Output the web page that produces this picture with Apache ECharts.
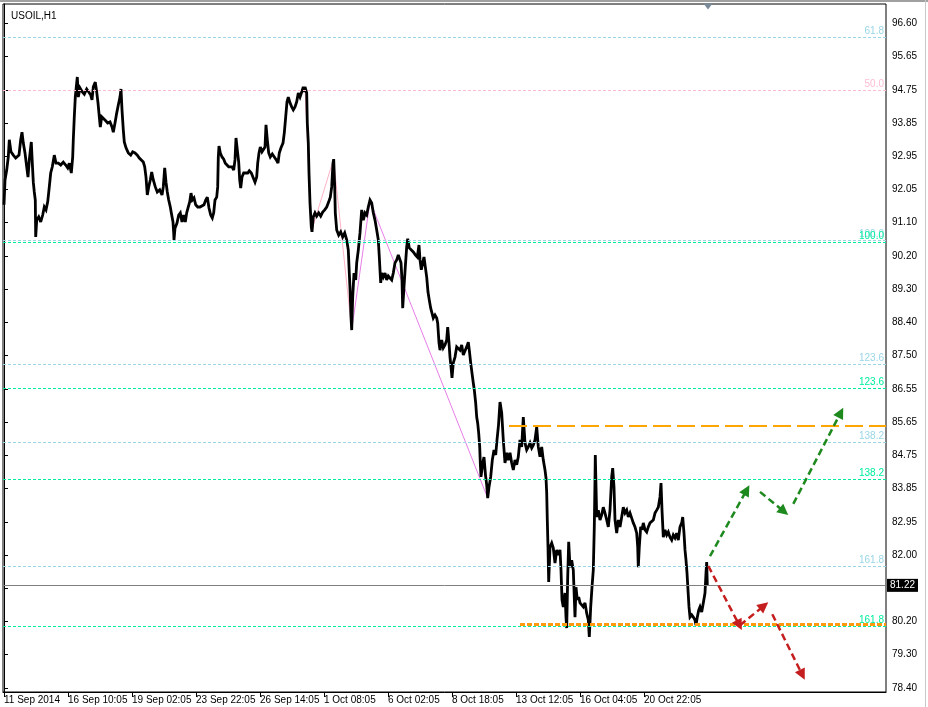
<!DOCTYPE html>
<html><head><meta charset="utf-8">
<script src="https://cdn.jsdelivr.net/npm/echarts@6/dist/echarts.min.js"></script>
<style>html,body{margin:0;padding:0;background:#fff}#c{width:928px;height:707px}</style>
</head><body><div id="c"></div>
<script>
const symbolName = 'USOIL,H1';
const timeLabels = ['11 Sep 2014','16 Sep 10:05','19 Sep 02:05','23 Sep 22:05','26 Sep 14:05','1 Oct 08:05','6 Oct 02:05','8 Oct 18:05','13 Oct 12:05','16 Oct 04:05','20 Oct 22:05'];
const timeTickBars = [0,64,128,192,256,320,384,448,512,576,640];
const priceTickLabels = ['78.40','79.30','80.20','81.10','82.00','82.95','83.85','84.75','85.65','86.55','87.50','88.40','89.30','90.20','91.10','92.05','92.95','93.85','94.75','95.65','96.60'];
const priceTickStart = 78.40, priceTickStep = 0.91;
const currentPrice = 81.22;

// [bar index (hours), price]
const pricePath = [[0,91.63],[1,92.31],[2.7,92.58],[4.3,92.94],[5.3,93.41],[7,93.08],[9.3,92.99],[11.7,92.91],[13.3,92.86],[15,92.99],[16.7,93.41],[18,93.62],[19.3,93.32],[21,93.05],[22.7,92.67],[24,92.39],[25.3,92.86],[27.3,93.35],[28.3,92.77],[29.3,92.25],[30.3,91.98],[31.3,91.76],[31.7,90.75],[32.7,91.21],[34.7,91.30],[36.7,91.16],[38.7,91.35],[40.3,91.57],[42,91.49],[43.7,91.71],[45.3,92.12],[46.7,92.50],[48.3,92.67],[50.3,92.99],[52,92.77],[54.3,92.77],[56.7,92.72],[59.3,92.80],[61.7,92.72],[63.7,92.64],[65.3,92.77],[67.3,92.50],[68.7,92.94],[69.3,93.41],[70.3,94.04],[71.3,94.58],[72.3,94.86],[73.3,95.13],[74.3,94.58],[76,94.83],[78.3,94.72],[80.3,94.66],[82.7,94.80],[84.7,94.72],[86.7,94.64],[88,94.50],[89.3,94.86],[91.3,94.99],[92.7,94.72],[94,94.42],[95.3,94.04],[96.3,93.76],[97.7,94.04],[99.7,94.04],[101.7,93.93],[103.7,93.87],[106,93.90],[108,93.76],[109.3,93.62],[111,93.87],[112.7,94.14],[114.3,94.36],[116,94.58],[117,94.80],[118,94.23],[119.3,93.68],[120.3,93.35],[122,93.19],[124.3,93.05],[126.7,92.99],[128.7,93.08],[131,93.05],[133.3,92.99],[135.3,92.91],[137.3,92.94],[139.3,92.80],[140.7,92.67],[142,92.39],[143.3,91.90],[144.7,92.12],[146.3,92.31],[147.7,92.53],[149.3,92.31],[151.3,92.12],[153.3,91.98],[155.7,92.04],[158,91.90],[159.3,92.12],[160.7,92.64],[162,92.25],[163.3,91.98],[164.7,91.76],[166.3,91.57],[167.7,91.35],[169,91.16],[169.7,90.86],[170,90.67],[171,90.99],[173,91.13],[174.7,91.35],[176.3,91.41],[178,91.16],[179.7,91.35],[181.3,91.16],[182.7,91.41],[184.3,91.57],[185.7,91.71],[187,91.95],[188.3,91.76],[190,91.82],[191.7,91.63],[193.7,91.57],[196,91.57],[198,91.54],[200,91.63],[201.7,91.76],[203.3,91.84],[205,91.54],[206.7,91.35],[208.3,91.27],[209.7,91.41],[211,91.76],[212.7,91.84],[213.7,92.12],[214.3,92.94],[215,93.24],[216.3,93.05],[218,92.94],[219.7,92.88],[221.3,92.77],[223,92.72],[224.7,92.67],[226.3,92.64],[228,92.67],[229.7,92.58],[231,92.86],[232,93.46],[233.3,93.13],[234.7,92.80],[235.7,92.31],[236.7,92.09],[238,92.39],[239.7,92.50],[241.7,92.45],[243.7,92.50],[245.3,92.56],[247.3,92.50],[249.3,92.45],[251,92.25],[252.7,92.39],[253.7,92.77],[255,93.05],[256.3,93.21],[258,93.08],[259.7,93.05],[261,93.21],[262,93.82],[263.3,93.41],[264.7,93.05],[266.3,92.94],[268.3,93.02],[270.3,92.94],[272.3,92.86],[274,92.77],[275.3,93.05],[277,93.19],[279,93.32],[280.3,93.60],[281.7,94.04],[283,94.45],[284.3,94.58],[286,94.42],[287.7,94.31],[289.3,94.23],[291,94.31],[292.7,94.45],[294.3,94.69],[296,94.58],[297.7,94.72],[299.3,94.86],[300.3,94.72],[301,94.86],[302.7,94.69],[303.3,93.87],[304.3,93.32],[305,92.50],[306,91.68],[307.3,91.02],[308,90.89],[309.3,91.30],[311,91.41],[312.7,91.32],[314.7,91.41],[316.7,91.32],[318.7,91.43],[320.7,91.49],[322.7,91.57],[324.7,91.71],[326.3,91.84],[327.7,92.12],[329,92.77],[329.7,92.88],[330.7,92.12],[331.3,91.41],[332.7,90.94],[334.7,90.80],[336.7,90.89],[338.7,90.75],[340.7,90.86],[342.7,90.67],[344.3,90.39],[345.3,89.76],[346,89.35],[347,88.56],[347.7,88.20],[348.7,89.11],[350,89.76],[351.7,89.57],[352.7,90.04],[354.3,90.39],[356,90.86],[357.7,91.49],[359.3,91.21],[361,91.41],[362.7,91.35],[364.3,91.57],[366,91.76],[367.7,91.68],[369.3,91.41],[371,91.21],[372.7,90.94],[374.3,90.67],[375.3,90.20],[376.7,89.49],[377.7,89.76],[379.3,89.65],[381,89.76],[382.7,89.57],[384.3,89.68],[386,89.71],[387.7,89.57],[389.3,89.76],[391,90.04],[392.7,90.12],[394.3,90.26],[396,90.31],[397,90.04],[398,89.57],[398.7,88.80],[400,89.38],[401.3,89.93],[402.7,90.48],[403.7,90.70],[405.3,90.45],[407.3,90.48],[409.3,90.34],[411.3,90.26],[413.3,90.20],[415,90.53],[416,90.12],[417.3,89.85],[418.7,90.04],[420,90.20],[421.3,89.93],[422.7,89.65],[424,89.24],[425.3,89.02],[426.7,88.80],[428,88.75],[429.3,88.53],[431,88.61],[432.7,88.53],[433.7,88.39],[435,87.85],[436,87.65],[437.7,87.93],[439.3,87.71],[441,87.79],[442.7,87.93],[443.7,88.28],[445,87.85],[446,87.46],[447,87.19],[448,86.89],[449.3,87.30],[451,87.46],[452.7,87.74],[454.3,87.79],[456,87.65],[457.7,87.79],[459.3,87.52],[461,87.57],[462.7,87.74],[464.3,87.87],[465.3,87.65],[466.7,87.30],[468,87.02],[469.3,86.75],[470.3,86.56],[471.7,86.20],[472.7,85.82],[473.7,85.65],[474.7,85.38],[475.7,85.00],[476.3,84.56],[477,84.18],[478.7,84.56],[480,84.72],[481.5,84.23],[482.7,83.96],[483.7,83.60],[485,83.90],[486.7,84.18],[488.3,84.64],[490,84.92],[491.7,84.78],[493,85.19],[494.5,85.60],[496,86.23],[497.7,85.93],[499.3,85.19],[501,84.56],[502.7,84.84],[504.3,84.64],[506,84.84],[507.7,84.56],[509.3,84.37],[511,84.64],[512.7,84.51],[514.3,84.73],[516,85.19],[517.7,85.00],[519.3,85.82],[521,85.11],[522.7,84.92],[524.3,85.00],[526,85.11],[527.7,84.97],[529.3,85.05],[531,85.19],[532.7,85.55],[534.3,85.00],[536,84.73],[537.7,85.00],[539.3,84.64],[541,84.37],[542,84.15],[542.7,83.74],[543.3,83.00],[544,82.26],[544.7,81.30],[546,82.26],[547.7,82.37],[549.3,82.23],[551,81.82],[552.7,82.18],[554.3,82.04],[556,82.18],[557,81.63],[558,80.81],[559.3,80.62],[561,81.00],[562,80.34],[562.7,80.04],[563.7,81.44],[564.7,82.40],[566,81.71],[567.7,81.90],[569.3,81.63],[571,80.34],[572,81.16],[573.3,80.81],[574.7,80.89],[576,80.73],[577.7,80.78],[579.3,80.62],[581,80.73],[582.7,80.45],[584.3,80.26],[585.3,79.80],[586.7,80.62],[588,81.16],[589.3,81.63],[590.3,82.81],[591,84.10],[591.3,84.78],[592.7,83.08],[594.3,83.27],[596,83.00],[597.7,83.14],[599.3,83.35],[601,83.19],[602.7,83.00],[604.3,82.81],[606,83.27],[607.7,84.18],[608.7,84.42],[610,83.90],[611,83.00],[612.7,82.64],[614.3,83.00],[616,82.81],[617.7,83.08],[619.3,83.35],[621,83.19],[622.7,83.27],[624.3,83.08],[626,83.19],[627.7,83.05],[629.3,82.92],[631,82.81],[632.7,82.64],[633.7,82.26],[634.3,81.71],[635.3,82.26],[636.7,82.81],[638,82.73],[639.3,82.92],[641,82.73],[642.7,82.67],[644.3,82.81],[646,82.92],[647.7,82.95],[649.3,83.00],[651,83.19],[652.7,83.27],[654.3,83.35],[656,83.63],[657,84.01],[658,83.27],[659.3,82.53],[661,82.73],[662.7,82.59],[664.3,82.67],[666,82.53],[667.7,82.45],[669.3,82.59],[671,82.51],[672.7,82.64],[674.3,82.45],[676,82.81],[677.7,82.92],[678.7,83.08],[680,82.64],[681,82.18],[682,81.90],[683,81.55],[684,81.08],[685,80.62],[686,80.34],[687.7,80.40],[689.3,80.34],[691,80.26],[692,80.12],[693.3,80.34],[694.7,80.53],[696,80.62],[697.7,80.48],[699.3,80.73],[701,81.00],[702,81.55],[702.7,81.85],[703.3,81.22]];

const zigzagPink = [[301,94.83],[307.5,90.91],[329.5,92.88],[347.7,88.20]];
const zigzagViolet = [[347.7,88.20],[366,91.73],[483.7,83.60]];

const fibBlueLabels = ['61.8','100.0','123.6','138.2','161.8'];
const fibBlueValues = [96.22,90.65,87.26,85.13,81.73];
const fibGreenLabels = ['100.0','123.6','138.2','161.8'];
const fibGreenValues = [90.60,86.61,84.11,80.10];
const fibPinkLabels = ['50.0'];
const fibPinkValues = [94.77];

const resistanceLine = [[505,85.57],[882,85.57]];
const supportLine = [[516,80.15],[882,80.15]];

const greenArrows = [[[706,82.01],[742.7,83.82]],[[756,83.77],[780,83.23]],[[789.3,83.44],[836.7,85.94]]];
const redArrows = [[[704.3,81.74],[735.3,80.12]],[[736,80.12],[760,80.65]],[[768.3,80.42],[798.3,78.76]]];

const FONT = 'Liberation Sans';
const C_BLUE = '#9ad6e6', C_GREEN = '#00eea0', C_PINK = '#ffbcd0';

function fibLines(labels, values, color) {
  return labels.map((t, i) => ({
    yAxis: values[i],
    lineStyle: { color: color, type: [3, 2], width: 1 },
    label: { show: true, formatter: t, position: 'insideEndTop', color: color, fontSize: 10, fontFamily: FONT, distance: [2, 1] }
  }));
}
function arrowLines(list, color) {
  return list.map(a => [{ coord: a[0] }, { coord: a[1] }]).map(p => {
    p[0].lineStyle = { color: color, width: 2.5, type: [7, 4] };
    return p;
  });
}

const chart = echarts.init(document.getElementById('c'));
chart.setOption({
  animation: false,
  backgroundColor: '#fff',
  title: { text: symbolName, left: 6, top: 6, textStyle: { fontSize: 10, fontWeight: 'normal', color: '#000', fontFamily: FONT } },
  grid: { left: 3, right: 42, top: 4, bottom: 15, show: true, borderColor: '#000', borderWidth: 1 },
  xAxis: {
    type: 'value', min: -1, max: 882,
    splitLine: { show: false },
    axisLine: { show: true, lineStyle: { color: '#000' } },
    axisTick: { show: true, length: 5, customValues: timeTickBars, lineStyle: { color: '#000' } },
    axisLabel: { customValues: timeTickBars, align: 'left', margin: 3, fontSize: 10, color: '#000', fontFamily: FONT,
      formatter: v => { const i = timeTickBars.indexOf(Math.round(v)); return i >= 0 ? timeLabels[i] : ''; } }
  },
  yAxis: {
    type: 'value', position: 'right', min: 78.29, max: 97.128, scale: true,
    splitLine: { show: false },
    axisLine: { show: true, lineStyle: { color: '#000' } },
    axisTick: { show: true, length: 4, customValues: priceTickLabels.map((s, i) => priceTickStart + i * priceTickStep), lineStyle: { color: '#000' } },
    axisLabel: { customValues: priceTickLabels.map((s, i) => priceTickStart + i * priceTickStep), margin: 6, fontSize: 10, color: '#000', fontFamily: FONT,
      formatter: v => priceTickLabels[Math.round((v - priceTickStart) / priceTickStep)] || '' }
  },
  series: [
    { type: 'line', data: [], z: 1, silent: true,
      markLine: { silent: true, symbol: 'none', animation: false,
        data: [
          ...fibLines(fibBlueLabels, fibBlueValues, C_BLUE),
          ...fibLines(fibGreenLabels, fibGreenValues, C_GREEN),
          ...fibLines(fibPinkLabels, fibPinkValues, C_PINK),
          { yAxis: currentPrice - 0.01, lineStyle: { color: '#808080', type: 'solid', width: 1 },
            label: { show: true, position: 'end', formatter: String(currentPrice.toFixed(2)), distance: 1, backgroundColor: '#000', color: '#fff', padding: [2, 3, 1, 3], fontSize: 10, fontFamily: FONT } }
        ] } },
    { type: 'line', data: zigzagPink, showSymbol: false, z: 2, lineStyle: { color: '#ffb3c6', width: 1 } },
    { type: 'line', data: zigzagViolet, showSymbol: false, z: 2, lineStyle: { color: '#e87ee8', width: 1 } },
    { type: 'line', data: pricePath, showSymbol: false, z: 3, lineStyle: { color: '#000', width: 2.8, join: 'miter', miterLimit: 3 },
      markPoint: { silent: true, data: [{ coord: [704, 97.06], symbol: 'triangle', symbolRotate: 180, symbolSize: [9, 6], itemStyle: { color: '#7a8a99' }, label: { show: false } }] } },
    { type: 'line', data: [], z: 4,
      markLine: { silent: true, symbol: 'none', animation: false,
        data: [
          [{ coord: resistanceLine[0], lineStyle: { color: '#ffa500', width: 2, type: [18, 6] } }, { coord: resistanceLine[1] }],
          [{ coord: supportLine[0], lineStyle: { color: '#ff9a10', width: 3, type: [5, 2], opacity: 1 } }, { coord: supportLine[1] }]
        ], label: { show: false } } },
    { type: 'line', data: [], z: 5,
      markLine: { silent: true, symbol: ['none', 'triangle'], symbolSize: 11, animation: false, label: { show: false },
        data: [...arrowLines(greenArrows, '#1e8a1e'), ...arrowLines(redArrows, '#c41e1e')] } }
  ],
  graphic: [
    { type: 'rect', shape: { x: 0, y: 0, width: 928, height: 2 }, style: { fill: '#a0a0a0' }, silent: true },
    { type: 'rect', shape: { x: 925, y: 0, width: 1, height: 707 }, style: { fill: '#c8c8c8' }, silent: true }
  ]
});
</script></body></html>
